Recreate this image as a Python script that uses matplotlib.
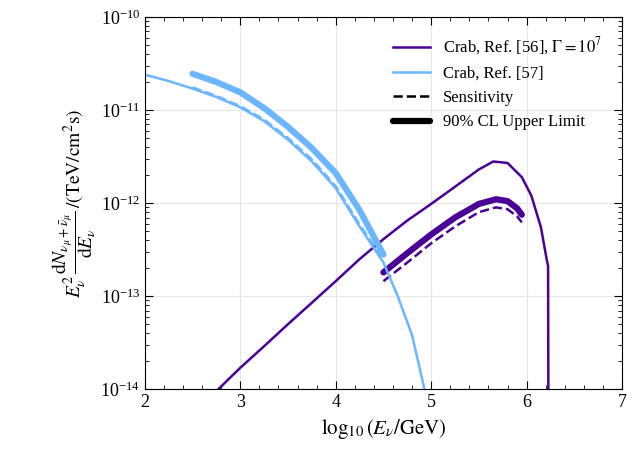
import numpy as np
import matplotlib
matplotlib.use("Agg")
import matplotlib.pyplot as plt
from matplotlib.lines import Line2D

plt.rcParams['font.family'] = ['Liberation Serif', 'DejaVu Serif']
plt.rcParams['mathtext.fontset'] = 'stix'

# Crab Ref [56] model
p_x = [2.77, 3.0, 3.25, 3.5, 3.75, 4.0, 4.25, 4.5, 4.75, 5.0, 5.25, 5.5, 5.65, 5.8, 5.95, 6.05, 6.15, 6.21, 6.225, 6.23]
p_y = [1e-14, 1.7e-14, 2.9e-14, 5.0e-14, 8.5e-14, 1.45e-13, 2.5e-13, 4.1e-13, 6.5e-13, 9.8e-13, 1.5e-12, 2.3e-12, 2.8e-12, 2.7e-12, 1.9e-12, 1.2e-12, 5.5e-13, 2.5e-13, 2.1e-13, 1e-15]
pul_x = [4.5, 4.75, 5.0, 5.25, 5.5, 5.68, 5.8, 5.9, 5.95]
pul_y = [1.8e-13, 2.9e-13, 4.6e-13, 7.0e-13, 9.8e-13, 1.1e-12, 1.05e-12, 8.8e-13, 7.5e-13]
psn_y = [1.45e-13, 2.3e-13, 3.7e-13, 5.6e-13, 8.0e-13, 9.0e-13, 8.6e-13, 7.2e-13, 6.2e-13]

# Crab Ref [57] model
b_x = [2.0, 2.25, 2.5, 2.75, 3.0, 3.25, 3.5, 3.75, 4.0, 4.25, 4.5, 4.65, 4.8, 4.93]
b_y = [2.4e-11, 2.05e-11, 1.7e-11, 1.38e-11, 1.07e-11, 7.6e-12, 4.8e-12, 2.8e-12, 1.45e-12, 5.6e-13, 2.3e-13, 1.0e-13, 3.8e-14, 1e-14]
bul_x = [2.5, 2.75, 3.0, 3.25, 3.5, 3.75, 4.0, 4.25, 4.5]
bul_y = [2.45e-11, 2.0e-11, 1.55e-11, 1.05e-11, 6.6e-12, 3.9e-12, 2.1e-12, 8.4e-13, 2.8e-13]
bsn_y = [1.75e-11, 1.42e-11, 1.1e-11, 7.9e-12, 5.0e-12, 2.95e-12, 1.52e-12, 5.9e-13, 2.45e-13]

purple = '#4B0096'
blue = '#6BB6FF'

fig = plt.figure(figsize=(6.38, 4.59), dpi=100)
ax = fig.add_axes([0.227, 0.152, 0.748, 0.811])
ax.plot(p_x, p_y, color=purple, lw=1.8)
ax.plot(pul_x, pul_y, color=purple, lw=4.5, solid_capstyle='round')
ax.plot(pul_x, psn_y, color=purple, lw=1.8, ls='--')
ax.plot(b_x, b_y, color=blue, lw=1.8)
ax.plot(bul_x, bul_y, color=blue, lw=4.5, solid_capstyle='round')
ax.plot(bul_x, bsn_y, color=blue, lw=1.8, ls='--')

ax.set_yscale('log')
ax.set_xlim(2, 7)
ax.set_ylim(1e-14, 1e-10)
ax.grid(True, color='#e6e6e6', lw=0.8)
ax.set_axisbelow(True)
ax.minorticks_on()
ax.tick_params(which='both', direction='in', top=True, right=True, labelsize=13)
ax.tick_params(which='major', length=6)
ax.tick_params(which='minor', length=3)
ax.set_xlabel(r'$\log_{10}(E_\nu/\mathrm{GeV})$', fontsize=15)
ax.set_ylabel(r'$E_\nu^2\,\dfrac{\mathrm{d}N_{\nu_\mu+\bar{\nu}_\mu}}{\mathrm{d}E_\nu}\,/(\mathrm{TeV/cm^2s})$', fontsize=14, labelpad=2)

handles = [Line2D([], [], color=purple, lw=1.8), Line2D([], [], color=blue, lw=1.8),
           Line2D([], [], color='k', lw=1.8, ls='--'), Line2D([], [], color='k', lw=4.5, solid_capstyle='round')]
labels = [r'Crab, Ref. [56], $\Gamma=10^7$', 'Crab, Ref. [57]', 'Sensitivity', '90% CL Upper Limit']
ax.legend(handles, labels, loc='upper right', frameon=False, fontsize=12, handlelength=2.2,
          bbox_to_anchor=(0.99, 0.99))
fig.savefig('out.png', dpi=100)
